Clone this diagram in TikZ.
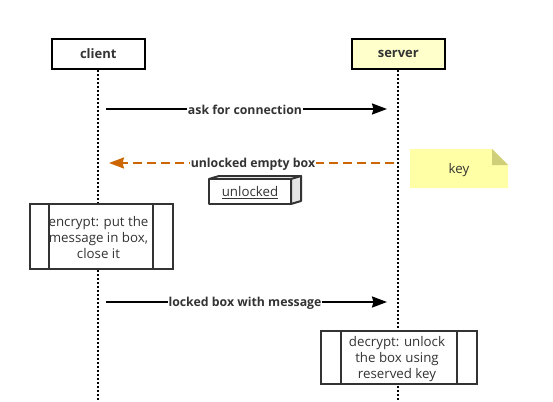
\documentclass[tikz,border=0pt]{standalone}
\usepackage{fontspec}
\setmainfont{Open Sans}
\usetikzlibrary{arrows.meta}

\definecolor{textgray}{HTML}{333333}
\definecolor{serverfill}{HTML}{FFFFCC}
\definecolor{notefill}{HTML}{FFFFA6}
\definecolor{notefold}{HTML}{CFCF7A}
\definecolor{replycolor}{HTML}{CC6600}
\definecolor{cubeside}{HTML}{E6E6E6}

\tikzset{
	party/.style = {draw, line width = 2pt, minimum width = 92.5pt, minimum height = 30pt, inner sep = 0pt, font = \bfseries\fontsize{13}{15}\selectfont, text = textgray},
	lifeline/.style = {line width = 2pt, dash pattern = on 2pt off 2pt},
	message/.style = {line width = 2pt, -{Stealth[length = 15pt, width = 11pt, inset = 1.5pt]}},
	msglabel/.style = {fill = white, inner sep = 0.5pt, font = \bfseries\fontsize{12.3}{14}\selectfont, text = textgray},
	process/.style = {draw = textgray, line width = 2pt, inner sep = 0pt, fill = white},
	divider/.style = {draw = textgray, line width = 2pt},
	plain/.style = {inner sep = 0pt, text = textgray, font = \fontsize{13.3}{16}\selectfont, align = center},
}

\begin{document}
\begin{tikzpicture}[x = 1pt, y = -1pt]
	\useasboundingbox (0,0) rectangle (553,401);

	\def\xCLIENT{98.3};
	\def\xSERVER{398.3};
	\def\yBOTTOM{401};

	\node [party] (client) at (\xCLIENT,54) {client};
	\node [party, fill = serverfill] (server) at (\xSERVER,54) {server};

	\coordinate (clientEnd) at (\xCLIENT,\yBOTTOM);
	\coordinate (serverEnd) at (\xSERVER,\yBOTTOM);

	\begin{scope}
		\draw [lifeline] (client.south) -- (clientEnd);
		\draw [lifeline] (server.south) -- (serverEnd);
	\end{scope}

	% messages
	\coordinate (askFrom) at (106,109);
	\coordinate (askTo) at (387,109);
	\coordinate (boxFrom) at (394,163);
	\coordinate (boxTo) at (109,163);
	\coordinate (lockedFrom) at (106,302);
	\coordinate (lockedTo) at (387,302);

	\begin{scope}
		\draw [message] (askFrom) -- (askTo);
		\node [msglabel] (askLabel) at (245,110) {ask for connection};

		\draw [message, replycolor, dash pattern = on 9pt off 5pt] (boxFrom) -- (boxTo);
		\node [msglabel] (boxLabel) at (253,164) {unlocked empty box};

		\draw [message] (lockedFrom) -- (lockedTo);
		\node [msglabel] (lockedLabel) at (245,303) {locked box with message};
	\end{scope}

	% note
	\begin{scope}
		\fill [notefill] (410,149) -- (492,149) -- (508,165) -- (508,188) -- (410,188) -- cycle;
		\fill [notefold] (492,149) -- (508,165) -- (492,165) -- cycle;
		\node [plain] (key) at (459,170) {key};
	\end{scope}

	% unlocked box
	\begin{scope}[draw = textgray, line width = 2pt, line join = round]
		\draw [fill = cubeside] (291,179) -- (301,176) -- (301,201) -- (291,204) -- cycle;
		\draw (209,179) -- (219,176) -- (301,176);
		\draw (209,179) rectangle (291,204);
		\node [plain] (unlocked) at (250,192.5) {\underline{unlocked}};
	\end{scope}

	% processes
	\begin{scope}
		\node [process, minimum width = 143pt, minimum height = 65pt] (encrypt) at (101,236.5) {};
		\draw [divider] (49,204) -- (49,269) (153,204) -- (153,269);
		\node [plain] (encryptText) at (98.5,238) {encrypt: put the\\message in box,\\close it};

		\node [process, minimum width = 156pt, minimum height = 53pt] (decrypt) at (399,357.5) {};
		\draw [divider] (341,331) -- (341,384) (457,331) -- (457,384);
		\node [plain] (decryptText) at (397,359) {decrypt: unlock\\the box using\\reserved key};
	\end{scope}
\end{tikzpicture}
\end{document}
